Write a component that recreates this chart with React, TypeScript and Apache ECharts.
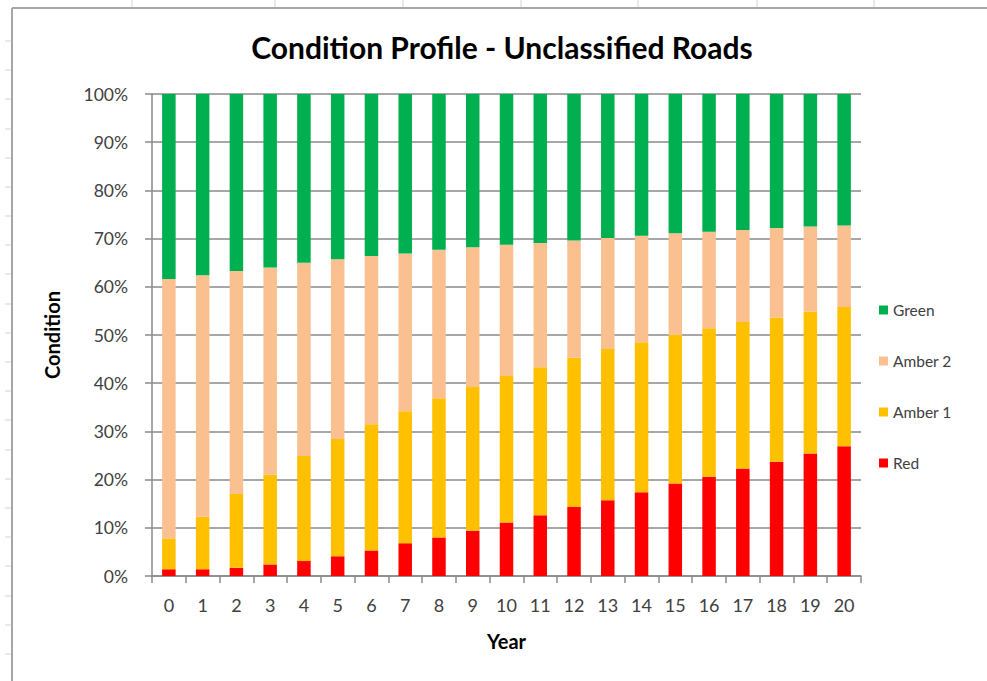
import React, { useEffect, useRef } from "react";
import * as echarts from "echarts";

const years = ["0","1","2","3","4","5","6","7","8","9","10","11","12","13","14","15","16","17","18","19","20"];
const red = [1.4,1.4,1.7,2.4,3.1,4.1,5.3,6.8,8.0,9.4,11.1,12.6,14.3,15.7,17.4,19.2,20.6,22.3,23.7,25.4,26.9];
const amber1 = [6.4,10.9,15.3,18.6,21.8,24.3,26.2,27.4,28.9,29.8,30.4,30.7,31.0,31.4,31.1,30.8,30.8,30.4,29.9,29.4,28.9];
const amber2 = [53.8,50.1,46.3,43.0,40.1,37.3,34.9,32.7,30.8,29.0,27.2,25.8,24.3,23.0,22.1,21.1,20.0,19.1,18.6,17.7,16.9];
const green = [38.4,37.6,36.7,36.0,35.0,34.3,33.6,33.1,32.3,31.8,31.3,30.9,30.4,29.9,29.4,28.9,28.6,28.2,27.8,27.5,27.3];
const legendOrder = ["Green", "Amber 2", "Amber 1", "Red"];

const FONT = "Lato, 'Open Sans', sans-serif";
const GRID = "#8a8a8a";

export default function App() {
  const ref = useRef<HTMLDivElement>(null);
  useEffect(() => {
    if (!ref.current) return;
    const chart = echarts.init(ref.current, undefined, { renderer: "svg" });
    const deco: any[] = [];
    deco.push({ type: "line", shape: { x1: 12, y1: 8, x2: 12, y2: 681 }, style: { stroke: "#a6a6a6", lineWidth: 2 }, silent: true });
    deco.push({ type: "line", shape: { x1: 12, y1: 8, x2: 987, y2: 8 }, style: { stroke: "#a6a6a6", lineWidth: 2 }, silent: true });
    [132, 275, 403, 521, 638, 757, 874].forEach((x) => {
      deco.push({ type: "line", shape: { x1: x, y1: 0, x2: x, y2: 7 }, style: { stroke: "#d4d4d4", lineWidth: 1 }, silent: true });
    });
    for (let y = 40.9; y < 681; y += 29.2) {
      deco.push({ type: "line", shape: { x1: 5, y1: Math.round(y), x2: 11, y2: Math.round(y) }, style: { stroke: "#d4d4d4", lineWidth: 1 }, silent: true });
    }
    deco.push({
      type: "text",
      x: 502,
      y: 47,
      style: {
        text: "Condition Profile - Unclassified Roads",
        font: `bold 30px ${FONT}`,
        fill: "#000",
        textAlign: "center",
        textVerticalAlign: "middle",
      },
    });

    const mk = (name: string, data: number[], color: string) => ({
      name,
      type: "bar",
      stack: "total",
      barWidth: "40%",
      data,
      itemStyle: { color },
    });

    chart.setOption({
      animation: false,
      backgroundColor: "#fff",
      textStyle: { fontFamily: FONT },
      graphic: deco,
      grid: { left: 152, top: 94, width: 709, height: 482 },
      legend: {
        orient: "vertical",
        left: 874,
        top: 297,
        itemWidth: 9,
        itemHeight: 9,
        itemGap: 35,
        icon: "rect",
        data: legendOrder,
        textStyle: { fontSize: 15.5, color: "#404040", fontFamily: FONT },
      },
      xAxis: {
        type: "category",
        data: years,
        name: "Year",
        nameLocation: "middle",
        nameGap: 55,
        nameTextStyle: { fontSize: 20, fontWeight: "bold", color: "#000", fontFamily: FONT },
        axisLine: { lineStyle: { color: GRID, width: 1.5 } },
        axisTick: { show: true, length: 7, lineStyle: { color: GRID, width: 1.5 } },
        axisLabel: { fontSize: 18, color: "#404040", margin: 20, fontFamily: FONT },
      },
      yAxis: {
        type: "value",
        min: 0,
        max: 100,
        interval: 10,
        name: "Condition",
        nameLocation: "middle",
        nameGap: 90,
        nameTextStyle: { fontSize: 20, fontWeight: "bold", color: "#000", fontFamily: FONT },
        axisLine: { show: true, lineStyle: { color: GRID, width: 1.5 } },
        axisTick: { show: true, length: 7, lineStyle: { color: GRID, width: 1.5 } },
        axisLabel: { fontSize: 17.5, color: "#404040", margin: 24, formatter: "{value}%", fontFamily: FONT },
        splitLine: { lineStyle: { color: GRID, width: 1.5 } },
      },
      series: [
        mk("Red", red, "#FF0000"),
        mk("Amber 1", amber1, "#FFC000"),
        mk("Amber 2", amber2, "#FAC090"),
        mk("Green", green, "#00B050"),
      ],
    });
    return () => chart.dispose();
  }, []);
  return <div ref={ref} style={{ position: "fixed", left: 0, top: 0, width: 987, height: 681 }} />;
}
